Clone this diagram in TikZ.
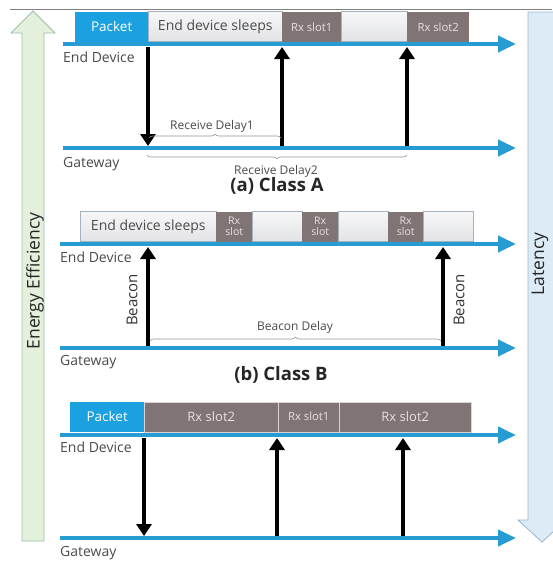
\documentclass[tikz,border=0pt]{standalone}
\usepackage{fontspec}
\setmainfont{Open Sans}
\usetikzlibrary{arrows.meta,decorations.pathreplacing}
\definecolor{lineblue}{RGB}{38,156,210}
\definecolor{pktblue}{RGB}{27,160,224}
\definecolor{rxgray}{RGB}{128,116,116}
\definecolor{rxtext}{RGB}{232,226,226}
\definecolor{sleepfill}{RGB}{226,227,230}
\definecolor{sleepborder}{RGB}{165,178,190}
\definecolor{labelgray}{RGB}{75,75,75}
\definecolor{bracegray}{RGB}{150,150,150}
\definecolor{greenfill}{RGB}{226,240,220}
\definecolor{greenborder}{RGB}{160,190,165}
\definecolor{bluefill}{RGB}{221,235,247}
\definecolor{blueborder}{RGB}{150,182,208}
\begin{document}
\begin{tikzpicture}[x=1pt,y=-1pt,
  lbl/.style={font=\fontsize{14}{16}\selectfont, text=labelgray, inner sep=0, anchor=west},
  tl/.style={line width=4pt, draw=lineblue, -{Triangle[width=16pt,length=18pt]}},
  sig/.style={line width=3.5pt, draw=black, -{Triangle[width=15pt,length=12pt]}},
  box/.style={anchor=south west, inner sep=0, minimum height=30pt},
  pkt/.style={box, fill=pktblue, text=white, font=\fontsize{13.5}{15}\selectfont},
  sleep/.style={box, draw=sleepborder, line width=0.6pt, top color=white!70!sleepfill, bottom color=sleepfill, text=labelgray, font=\fontsize{14}{16}\selectfont},
  rx/.style={box, fill=rxgray, text=rxtext, font=\fontsize{11.3}{13}\selectfont},
  rxs/.style={rx, align=center, font=\fontsize{10.5}{11}\selectfont},
  dbrace/.style={draw=bracegray, line width=0.6pt, decorate, decoration={brace, amplitude=4pt}},
  dlbl/.style={font=\fontsize{12}{14}\selectfont, text=labelgray, inner sep=0},
  title/.style={font=\fontsize{18.5}{20}\selectfont\bfseries, text=black!85, inner sep=0},
  side/.style={font=\fontsize{17.5}{19}\selectfont, text=black!85, rotate=90, inner sep=0}
]
\useasboundingbox (0,0) rectangle (552,562);
\fill[white] (0,0) rectangle (552,562);
% top rule
\draw[gray, line width=0.8pt] (10,9) -- (552,9);

% side arrows
\draw[fill=greenfill, draw=greenborder, line width=0.8pt]
  (33,11) -- (55,33) -- (44,33) -- (44,541) -- (22,541) -- (22,33) -- (11,33) -- cycle;
\node[side] (ee) at (35,281) {Energy Efficiency};
\draw[fill=bluefill, draw=blueborder, line width=0.8pt]
  (528,12) -- (560,12) -- (560,520) -- (566,520) -- (542,542) -- (518,520) -- (528,520) -- cycle;
\node[side] (lat) at (540,264) {Latency};

%%%%%%%% Class A
\node[pkt, minimum width=73pt] (aP) at (75,42) {Packet};
\node[sleep, minimum width=134pt] (aS) at (148,42) {End device sleeps};
\node[rx, minimum width=59pt] (aR1) at (282,42) {Rx slot1};
\node[sleep, minimum width=66pt] (aE1) at (341,42) {};
\node[rx, minimum width=62pt] (aR2) at (407,42) {Rx slot2};
\coordinate (aEs) at (63,44); \coordinate (aEe) at (516,44);
\coordinate (aGs) at (63,148); \coordinate (aGe) at (516,148);
\draw[tl] (aEs) -- (aEe);
\draw[tl] (aGs) -- (aGe);
\node[lbl] (aEl) at (63,57) {End Device};
\node[lbl] (aGl) at (63,164) {Gateway};
\coordinate (a1t) at (148,47); \coordinate (a1b) at (148,146);
\coordinate (a2t) at (282,47); \coordinate (a2b) at (282,146);
\coordinate (a3t) at (407,47); \coordinate (a3b) at (407,146);
\draw[sig] (a1t) -- (a1b);
\draw[sig] (a2b) -- (a2t);
\draw[sig] (a3b) -- (a3t);
\coordinate (d1a) at (149,138); \coordinate (d1b) at (281,138);
\draw[dbrace] (d1a) -- (d1b);
\node[dlbl] (d1l) at (212,126) {Receive Delay1};
\coordinate (d2a) at (147,155); \coordinate (d2b) at (407,155);
\draw[dbrace] (d2b) -- (d2a);
\node[dlbl] (d2l) at (276,171) {Receive Delay2};
\node[title] (ta) at (277,186) {(a) Class A};

%%%%%%%% Class B
\node[sleep, minimum width=136pt] (bS) at (80,242) {End device sleeps};
\node[rxs, minimum width=36pt] (bR1) at (216,242) {Rx\\slot};
\node[sleep, minimum width=50pt] (bE1) at (252,242) {};
\node[rxs, minimum width=36pt] (bR2) at (302,242) {Rx\\slot};
\node[sleep, minimum width=50pt] (bE2) at (338,242) {};
\node[rxs, minimum width=35pt] (bR3) at (388,242) {Rx\\slot};
\node[sleep, minimum width=50pt] (bE3) at (423,242) {};
\coordinate (bEs) at (60,244); \coordinate (bEe) at (516,244);
\coordinate (bGs) at (60,348); \coordinate (bGe) at (516,348);
\draw[tl] (bEs) -- (bEe);
\draw[tl] (bGs) -- (bGe);
\node[lbl] (bEl) at (60,257) {End Device};
\node[lbl] (bGl) at (60,362) {Gateway};
\coordinate (b1t) at (148,247); \coordinate (b1b) at (148,346);
\coordinate (b2t) at (443,247); \coordinate (b2b) at (443,346);
\draw[sig] (b1b) -- (b1t);
\draw[sig] (b2b) -- (b2t);
\node[side, text=black!80, font=\fontsize{15}{17}\selectfont] (bc1) at (132,300) {Beacon};
\node[side, text=black!80, font=\fontsize{15}{17}\selectfont] (bc2) at (459,300) {Beacon};
\coordinate (bda) at (150,341); \coordinate (bdb) at (441,341);
\draw[dbrace] (bda) -- (bdb);
\node[dlbl] (bdl) at (295,327) {Beacon Delay};
\node[title] (tb) at (281,375) {(b) Class B};

%%%%%%%% Class C
\node[pkt, minimum width=74pt] (cP) at (70,432) {Packet};
\node[rx, minimum width=134pt, font=\fontsize{13}{15}\selectfont, draw=white!70!rxgray, line width=0.5pt] (cR2a) at (144,432) {Rx slot2};
\node[rx, minimum width=61pt, draw=white!70!rxgray, line width=0.5pt] (cR1) at (278,432) {Rx slot1};
\node[rx, minimum width=132pt, font=\fontsize{13}{15}\selectfont, draw=white!70!rxgray, line width=0.5pt] (cR2b) at (339,432) {Rx slot2};
\coordinate (cEs) at (60,435); \coordinate (cEe) at (516,435);
\coordinate (cGs) at (60,538); \coordinate (cGe) at (516,538);
\draw[tl] (cEs) -- (cEe);
\draw[tl] (cGs) -- (cGe);
\node[lbl] (cEl) at (60,447) {End Device};
\node[lbl] (cGl) at (60,553) {Gateway};
\coordinate (c1t) at (144,438); \coordinate (c1b) at (144,536);
\coordinate (c2t) at (277,438); \coordinate (c2b) at (277,536);
\coordinate (c3t) at (403,438); \coordinate (c3b) at (403,536);
\draw[sig] (c1t) -- (c1b);
\draw[sig] (c2b) -- (c2t);
\draw[sig] (c3b) -- (c3t);
\end{tikzpicture}
\end{document}
